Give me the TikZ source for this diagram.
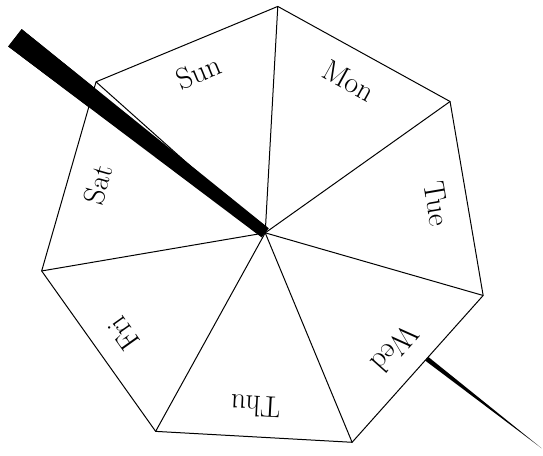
\documentclass[tikz,border=0pt]{standalone}
\begin{document}
\begin{tikzpicture}[line width=0.5pt,
  daylabel/.style={font=\fontsize{15}{18}\selectfont, inner sep=0pt},
  needle/.style={fill=black}]
\useasboundingbox (-4.678,-3.920) rectangle (4.900,4.107);
\coordinate (c) at (0,0);
\coordinate (b1) at (-4.295,3.593);
\coordinate (b2) at (-4.533,3.287);
\coordinate (tip) at (4.877,-3.801);
\coordinate (m1) at (0.0627,0.0804);
\coordinate (m2) at (-0.0627,-0.0804);
\foreach \i in {0,...,6} \coordinate (v\i) at ({86.82-\i*360/7}:4);
% whole needle (behind the wheel)
\fill[needle] (b1) -- (tip) -- (b2) -- cycle;
% wheel
\fill[white] (v0) -- (v1) -- (v2) -- (v3) -- (v4) -- (v5) -- (v6) -- cycle;
\foreach \i in {0,...,6} \draw (c) -- (v\i);
\draw (v0) -- (v1) -- (v2) -- (v3) -- (v4) -- (v5) -- (v6) -- cycle;
% upper half of the needle (over the wheel)
\fill[needle] (b1) -- (m1) -- (m2) -- (b2) -- cycle;
% labels
\foreach \k/\d in {0/Sun,1/Mon,2/Tue,3/Wed,4/Thu,5/Fri,6/Sat}
  \node[daylabel, rotate={22.53-\k*360/7}] (l\d) at ({112.53-\k*360/7}:3.07) {\d};
\end{tikzpicture}
\end{document}
